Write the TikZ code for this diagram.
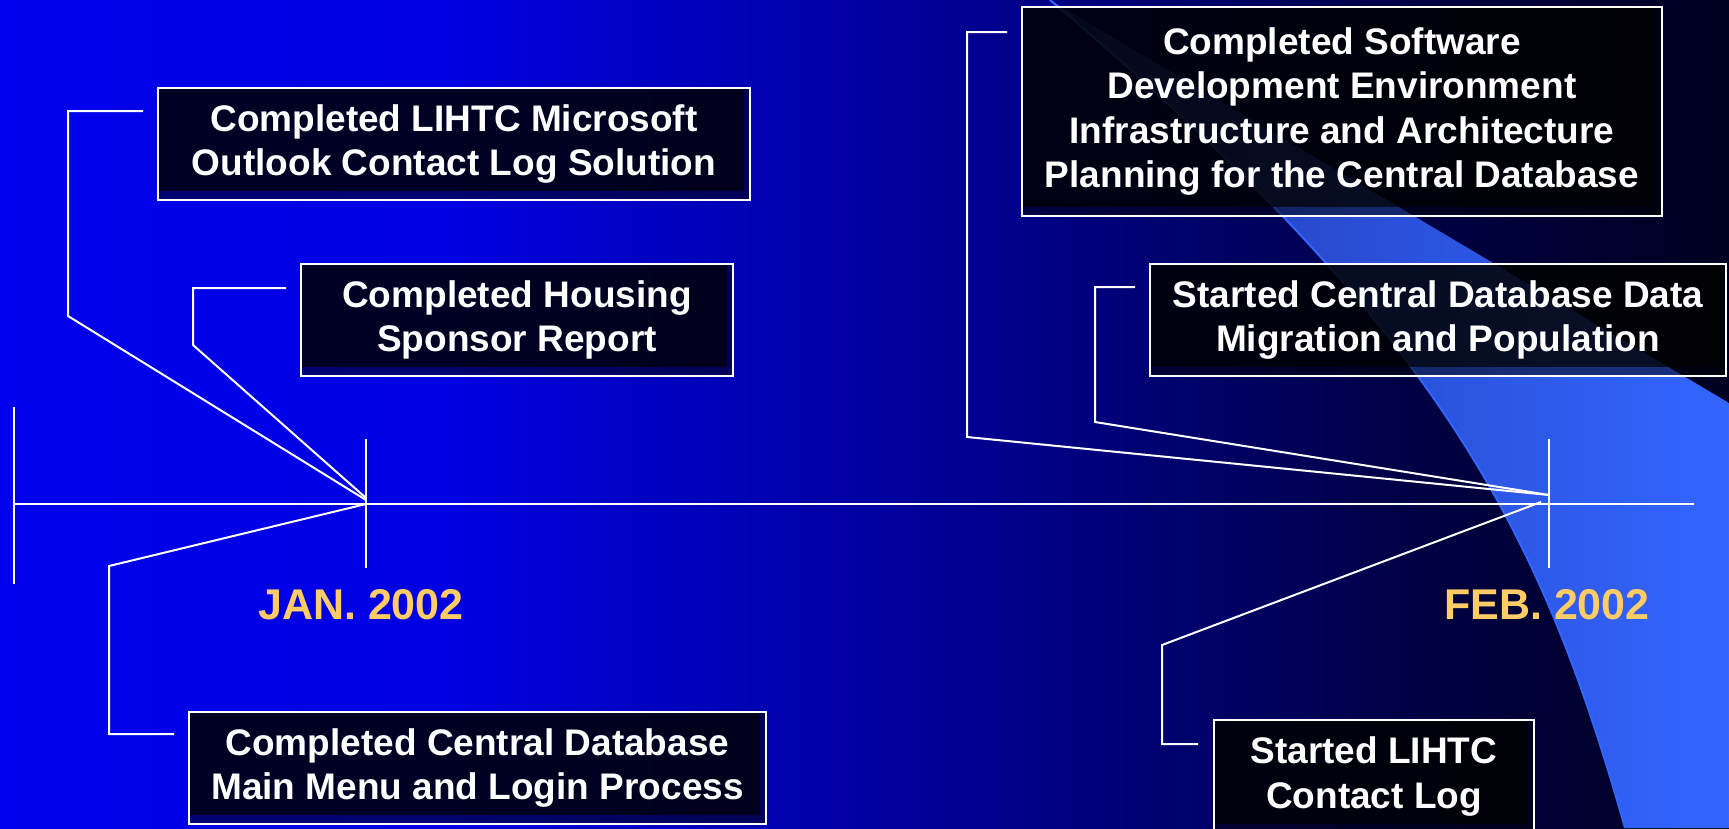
\documentclass[tikz,border=0pt]{standalone}
\usepackage{fontspec}
\setmainfont{Liberation Sans}

\definecolor{bgA}{RGB}{0,0,236}
\definecolor{bgB}{RGB}{0,0,226}
\definecolor{bgC}{RGB}{0,0,140}
\definecolor{bgD}{RGB}{0,0,70}
\definecolor{bgE}{RGB}{0,0,32}
\definecolor{bandDark}{RGB}{34,58,178}
\definecolor{bandLight}{RGB}{51,102,255}
\definecolor{dateGold}{RGB}{255,204,102}

\begin{document}
\begin{tikzpicture}[x=1pt,y=-1pt,
  milestone/.style={draw=white, line width=2pt, fill=black, fill opacity=0.5,
    text=white, text opacity=1, inner sep=0pt, align=center,
    font=\bfseries\fontsize{37}{44.5}\selectfont,
    path picture={\fill[black,opacity=0.68]
      (path picture bounding box.north west) rectangle
      ([xshift=-6pt,yshift=9pt]path picture bounding box.south east);}},
  leader/.style={draw=white, line width=2pt},
  datelabel/.style={text=dateGold, font=\bfseries\fontsize{43}{50}\selectfont,
    inner sep=0pt, anchor=base west}
]
\useasboundingbox (0,0) rectangle (1729,828);
\clip (0,0) rectangle (1729,828);

% background: horizontal blue-to-navy gradient
\shade[left color=bgA, right color=bgB] (0,0) rectangle (451,828);
\shade[left color=bgB, right color=bgC] (450,0) rectangle (1001,828);
\shade[left color=bgC, right color=bgD] (1000,0) rectangle (1401,828);
\shade[left color=bgD, right color=bgE] (1400,0) rectangle (1729,828);

% light blue swoosh on the right
\shade[left color=bandDark, right color=bandLight]
  (1050,0) -- (1729,403) -- (1729,828) -- (1625,828)
  .. controls (1540,528) and (1440,330) .. (1050,0) -- cycle;
\draw[bandLight, line width=2pt]
  (1625,828) .. controls (1540,528) and (1440,330) .. (1050,0);

% timeline
\coordinate (start) at (14,504);
\coordinate (finish) at (1694,504);
\coordinate (jan) at (366,504);
\coordinate (feb) at (1549,504);
\draw[leader] (start) -- (finish);
\draw[leader] ([yshift=97pt]start) -- ([yshift=-80pt]start);
\draw[leader] ([yshift=65pt]jan) -- ([yshift=-64pt]jan);
\draw[leader] ([yshift=65pt]feb) -- ([yshift=-64pt]feb);

% milestone boxes
\node[milestone, minimum width=592pt, minimum height=112pt] (outlook) at (454,144)
  {Completed LIHTC Microsoft\\Outlook Contact Log Solution};
\node[milestone, minimum width=432pt, minimum height=112pt] (sponsor) at (517,320)
  {Completed Housing\\Sponsor Report};
\node[milestone, minimum width=577pt, minimum height=112pt] (mainmenu) at (477.5,768)
  {Completed Central Database\\Main Menu and Login Process};
\node[milestone, minimum width=640pt, minimum height=209pt] (devenv) at (1342,111.5)
  {Completed Software\\Development Environment\\Infrastructure and Architecture\\Planning for the Central Database};
\node[milestone, minimum width=576pt, minimum height=112pt] (migration) at (1438,320)
  {Started Central Database Data\\Migration and Population};
\node[milestone, minimum width=320pt, minimum height=113pt] (contactlog) at (1374,776.5)
  {Started LIHTC\\Contact Log};

% leader ends beside the boxes
\coordinate (outlookEnd) at (143,111);
\coordinate (sponsorEnd) at (286,288);
\coordinate (mainmenuEnd) at (174,734);
\coordinate (devenvEnd) at (1007,32);
\coordinate (migrationEnd) at (1135,287);
\coordinate (contactlogEnd) at (1198,744);

% leaders into the month ticks
\draw[leader] (outlookEnd) -- (68,111) -- (68,316) -- ([yshift=4pt]jan);
\draw[leader] (sponsorEnd) -- (193,288) -- (193,345) -- ([yshift=6pt]jan);
\draw[leader] (jan) -- (109,566) -- (109,734) -- (mainmenuEnd);
\draw[leader] (devenvEnd) -- (967,32) -- (967,437) -- ([yshift=9pt]feb);
\draw[leader] (migrationEnd) -- (1095,287) -- (1095,422) -- ([yshift=9pt]feb);
\draw[leader] ([shift={(-8pt,2pt)}]feb) -- (1162,645) -- (1162,744) -- (contactlogEnd);

% month labels
\node[datelabel] (janlabel) at (258,619) {JAN. 2002};
\node[datelabel] (feblabel) at (1444,619) {FEB. 2002};
\end{tikzpicture}
\end{document}
